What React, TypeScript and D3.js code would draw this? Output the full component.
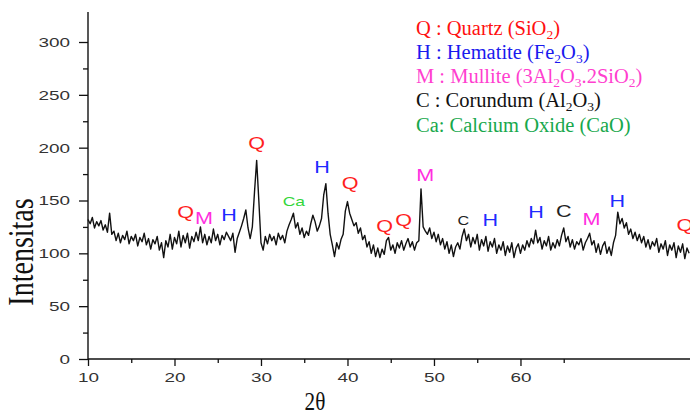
import React, { useEffect, useRef } from "react";
import * as d3 from "d3";

// XRD scan, 2θ from 10 in 0.25 steps
const thetaStart = 10;
const thetaStep = 0.25;
const intensity = [
  132, 128, 134, 124, 130, 126, 131, 122, 127, 120, 138, 118,
  121, 112, 119, 110, 117, 113, 121, 109, 116, 112, 118, 107,
  115, 111, 119, 108, 114, 104, 113, 109, 116, 103, 110, 96,
  112, 106, 118, 104, 115, 109, 121, 106, 117, 110, 119, 105,
  116, 111, 120, 112, 125, 110, 118, 108, 116, 110, 123, 112,
  118, 108, 117, 113, 120, 116, 112, 119, 101, 114, 120, 126,
  133, 141, 124, 114, 125, 158, 188, 150, 110, 103, 116, 109,
  118, 112, 116, 108, 119, 113, 117, 110, 121, 127, 132, 138,
  124, 129, 118, 124, 115, 121, 117, 128, 136, 130, 121, 126,
  133, 155, 166, 138, 118, 108, 97, 110, 104, 113, 118, 140,
  149, 138, 132, 126, 129, 119, 124, 113, 117, 106, 111, 100,
  108, 97, 105, 96, 104, 99, 112, 115, 103, 108, 100, 110,
  105, 112, 103, 109, 114, 106, 111, 103, 110, 112, 161, 125,
  121, 118, 124, 114, 120, 111, 118, 108, 114, 104, 111, 100,
  108, 97, 106, 110, 104, 116, 123, 112, 118, 106, 115, 109,
  118, 103, 113, 107, 116, 102, 111, 106, 114, 100, 108, 103,
  111, 98, 107, 101, 110, 96, 105, 109, 100, 108, 103, 112,
  106, 114, 109, 122, 110, 115, 104, 112, 107, 116, 103, 110,
  105, 113, 107, 117, 124, 111, 116, 106, 113, 104, 111, 108,
  114, 103, 110, 114, 119, 108, 112, 101, 109, 99, 107, 111,
  100, 106, 98, 110, 117, 139, 128, 133, 124, 129, 118, 123,
  114, 120, 112, 118, 110, 116, 106, 113, 104, 111, 107, 114,
  101, 109, 104, 112, 98, 108, 103, 110, 96, 107, 101, 109,
  95, 105, 100,
];

const xMajorTicks = [10, 20, 30, 40, 50, 60];
const xMinorTicks = [15, 25, 35, 45, 55, 65];
const yMajorTicks = [0, 50, 100, 150, 200, 250, 300];
const yMinorTicks = [25, 75, 125, 175, 225, 275];

// peak labels
const peakLetters = ["Q", "M", "H", "Q", "Ca", "H", "Q", "Q", "Q", "M", "C", "H", "H", "C", "M", "H", "Q"];
const peakTheta = [21.3, 23.4, 26.3, 29.5, 33.8, 37.05, 40.3, 44.3, 46.5, 49.0, 53.4, 56.5, 61.8, 65.0, 68.2, 71.2, 79.0];
const peakLabelY = [139, 133, 136, 204, 149, 181, 166, 125, 131, 174, 131, 131, 139, 140, 132, 149, 126];
const peakFontSize = [16, 16, 16, 16, 13, 16, 16, 16, 16, 16, 12, 16, 16, 16, 16, 16, 16];

const phaseColors: Record<string, string> = {
  Q: "#ff1f1f",
  H: "#1f2bff",
  M: "#ff2ee0",
  C: "#222222",
  Ca: "#33d63a",
};

// legend: [text, isSubscript]
const legendRows: [string, boolean][][] = [
  [["Q : Quartz (SiO", false], ["2", true], [")", false]],
  [["H : Hematite (Fe", false], ["2", true], ["O", false], ["3", true], [")", false]],
  [["M : Mullite (3Al", false], ["2", true], ["O", false], ["3", true], [".2SiO", false], ["2", true], [")", false]],
  [["C : Corundum (Al", false], ["2", true], ["O", false], ["3", true], [")", false]],
  [["Ca: Calcium Oxide (CaO)", false]],
];
const legendColors = ["#ff1010", "#1a1aee", "#ff3fcf", "#111111", "#17a84c"];

const width = 690;
const height = 414;

const App = () => {
  const ref = useRef<SVGSVGElement>(null);

  useEffect(() => {
    const svg = d3.select(ref.current);
    svg.selectAll("*").remove();

    const x = d3.scaleLinear().domain([10, 79.6]).range([88, 690]);
    const y = d3.scaleLinear().domain([0, 328.4]).range([359, 12]);

    const data = intensity.map((v, i) => ({ t: thetaStart + i * thetaStep, v }));

    const tickFont = "'Liberation Sans', Arial, sans-serif";

    // x axis
    const gx = svg.append("g").attr("transform", `translate(0,${y(0)})`);
    gx.append("g")
      .call(d3.axisBottom(x).tickValues(xMinorTicks).tickSize(4).tickFormat(() => ""))
      .call((g) => g.select(".domain").remove());
    gx.append("g")
      .call(d3.axisBottom(x).tickValues(xMajorTicks).tickSize(7).tickFormat(d3.format("d")))
      .call((g) => g.select(".domain").remove());
    gx.selectAll("line").attr("stroke", "#111").attr("stroke-width", 1.3);
    gx.selectAll("text")
      .attr("y", 23)
      .attr("dy", null)
      .attr("transform", "scale(1.4,1)")
      .attr("fill", "#333")
      .style("font-family", tickFont)
      .style("font-size", "13.5px");
    gx.append("line")
      .attr("x1", x(10))
      .attr("x2", 690)
      .attr("stroke", "#111")
      .attr("stroke-width", 1.4);

    // y axis
    const gy = svg.append("g").attr("transform", `translate(${x(10)},0)`);
    gy.append("g")
      .call(d3.axisLeft(y).tickValues(yMinorTicks).tickSize(5).tickFormat(() => ""))
      .call((g) => g.select(".domain").remove());
    gy.append("g")
      .call(d3.axisLeft(y).tickValues(yMajorTicks).tickSize(9).tickFormat(d3.format("d")))
      .call((g) => g.select(".domain").remove());
    gy.selectAll("line").attr("stroke", "#111").attr("stroke-width", 1.3);
    gy.selectAll("text")
      .attr("x", -18 / 1.4)
      .attr("transform", "scale(1.4,1)")
      .attr("fill", "#333")
      .style("font-family", tickFont)
      .style("font-size", "13.5px");
    gy.append("line")
      .attr("y1", 12)
      .attr("y2", y(0) + 1)
      .attr("stroke", "#111")
      .attr("stroke-width", 1.4);

    // pattern
    const line = d3
      .line<{ t: number; v: number }>()
      .x((d) => x(d.t))
      .y((d) => y(d.v));
    svg.append("path")
      .datum(data)
      .attr("d", line)
      .attr("fill", "none")
      .attr("stroke", "#111")
      .attr("stroke-width", 1.4)
      .attr("stroke-linejoin", "round");

    // peak labels
    svg.append("g")
      .selectAll("text")
      .data(peakLetters)
      .enter()
      .append("text")
      .attr("transform", (_, i) => `translate(${x(peakTheta[i])},${y(peakLabelY[i])}) scale(1.35,1)`)
      .attr("text-anchor", "middle")
      .attr("dominant-baseline", "central")
      .attr("fill", (d) => phaseColors[d])
      .style("font-family", tickFont)
      .style("font-size", (_, i) => `${peakFontSize[i]}px`)
      .text((d) => d);

    // legend
    const legend = svg.append("g").style("font-family", "'Liberation Serif', 'Times New Roman', serif");
    legendRows.forEach((row, r) => {
      const t = legend
        .append("text")
        .attr("x", 416)
        .attr("y", 34.5 + r * 24.3)
        .attr("fill", legendColors[r])
        .style("font-size", "20.5px");
      row.forEach(([s, sub]) => {
        t.append("tspan")
          .attr("baseline-shift", sub ? "-4" : null)
          .style("font-size", sub ? "13.5px" : "20.5px")
          .text(s);
      });
    });

    // axis titles
    svg.append("text")
      .attr("transform", "translate(21,252) scale(1.3,1) rotate(-90)")
      .attr("text-anchor", "middle")
      .attr("dominant-baseline", "central")
      .style("font-family", "'Liberation Serif', 'Times New Roman', serif")
      .style("font-size", "28px")
      .attr("fill", "#111")
      .text("Intensitas");
    svg.append("text")
      .attr("transform", "translate(315,410) scale(0.85,1)")
      .attr("text-anchor", "middle")
      .style("font-family", "'Liberation Serif', 'Times New Roman', serif")
      .style("font-size", "25px")
      .attr("fill", "#111")
      .text("2θ");
  }, []);

  return (
    <svg
      ref={ref}
      width={width}
      height={height}
      style={{ position: "absolute", left: 0, top: 0, background: "#fff" }}
    />
  );
};

export default App;
